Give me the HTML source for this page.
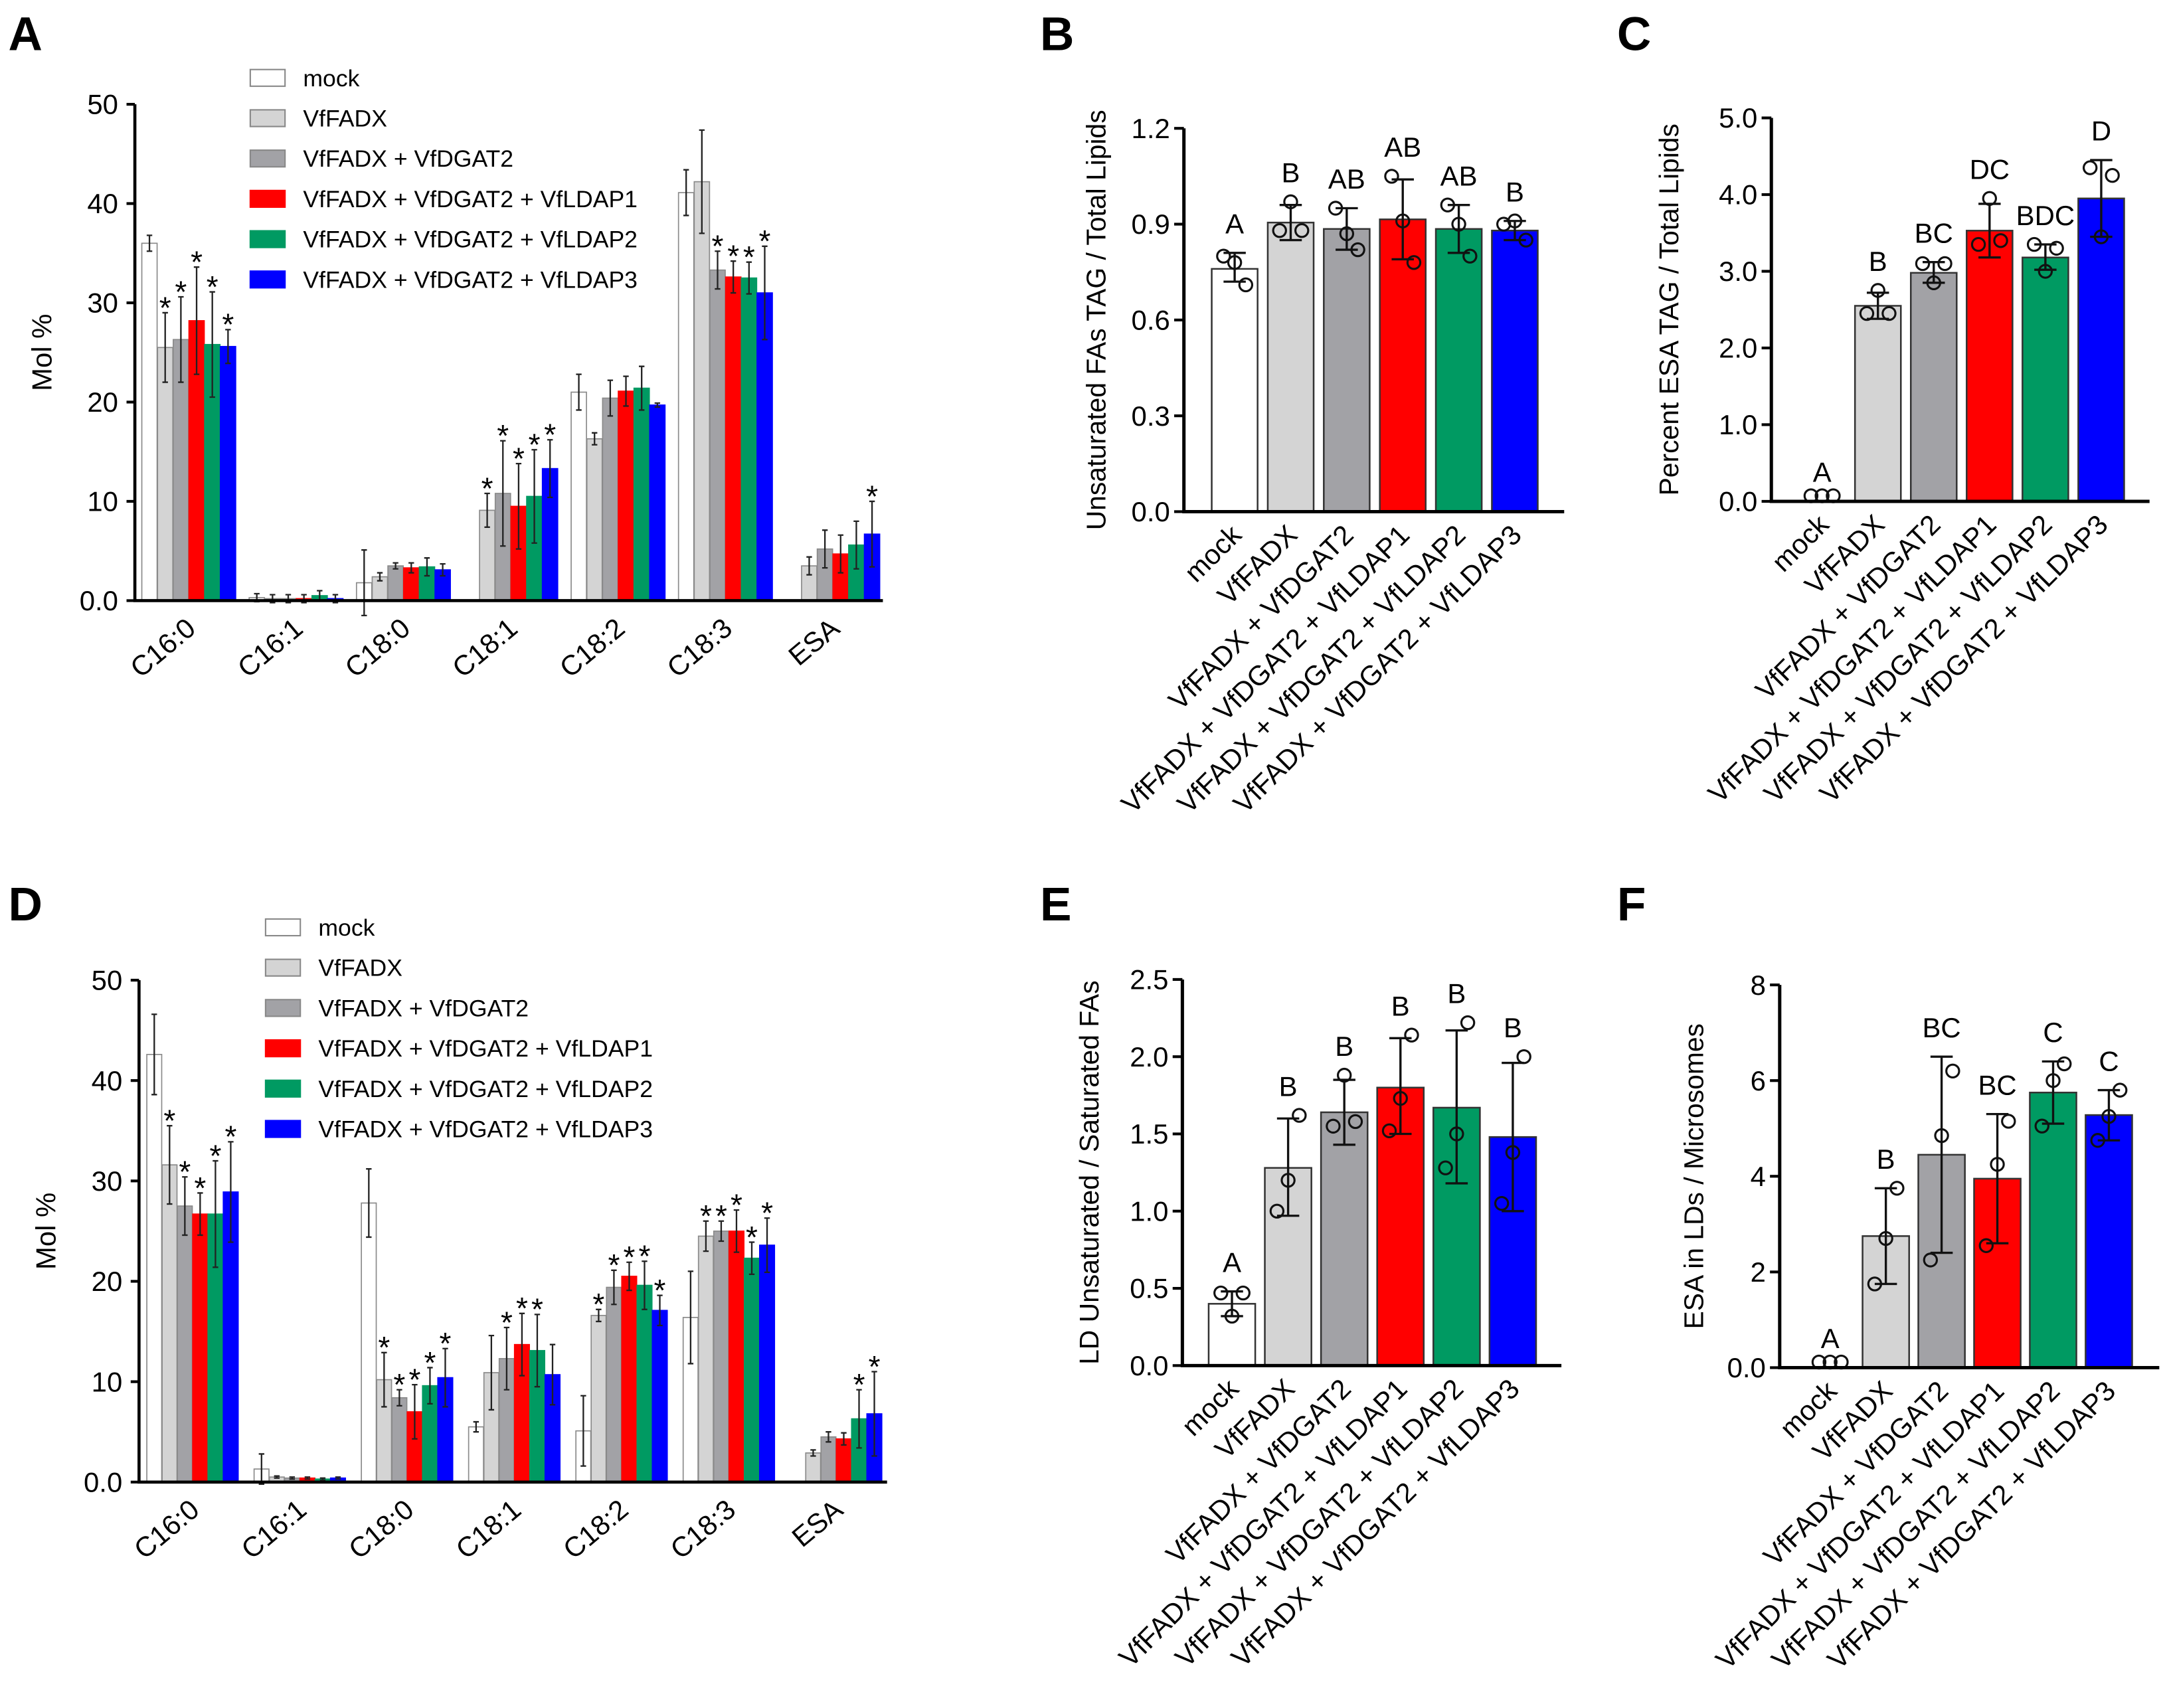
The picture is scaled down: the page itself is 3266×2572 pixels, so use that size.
<!DOCTYPE html>
<html><head><meta charset="utf-8">
<style>
html,body{margin:0;padding:0;background:#fff;}
svg{display:block;font-family:"Liberation Sans",Arial,sans-serif;}
</style></head>
<body>
<svg id="fig" width="3266" height="2572" viewBox="0 0 1560 1228.5" xmlns="http://www.w3.org/2000/svg">
<rect width="1560" height="1229" fill="#fff"/>
</svg>
<script>
// ---- shared ----
const seriesNames = ["mock","VfFADX","VfFADX + VfDGAT2","VfFADX + VfDGAT2 + VfLDAP1","VfFADX + VfDGAT2 + VfLDAP2","VfFADX + VfDGAT2 + VfLDAP3"];
const seriesColors = ["#ffffff","#d4d4d4","#a2a2a6","#ff0000","#009a62","#0000ff"];
const fattyAcids = ["C16:0","C16:1","C18:0","C18:1","C18:2","C18:3","ESA"];

// ---- Panel A data ----
const aMock  = [36.0, 0.3, 1.8, 0, 21.0, 41.1, 0];
const aFadx  = [25.5, 0.2, 2.4, 9.1, 16.3, 42.2, 3.5];
const aDgat  = [26.3, 0.2, 3.5, 10.8, 20.4, 33.3, 5.2];
const aL1    = [28.2, 0.2, 3.3, 9.5, 21.1, 32.6, 4.7];
const aL2    = [25.8, 0.5, 3.4, 10.5, 21.4, 32.5, 5.6];
const aL3    = [25.6, 0.2, 3.1, 13.3, 19.7, 31.0, 6.7];
const aErrMock = [0.8, 0.4, 3.3, 0, 1.8, 2.3, 0];
const aErrFadx = [3.5, 0.4, 0.4, 1.7, 0.6, 5.2, 0.9];
const aErrDgat = [4.3, 0.4, 0.3, 5.3, 1.8, 1.9, 1.9];
const aErrL1   = [5.4, 0.4, 0.5, 4.3, 1.5, 1.6, 1.9];
const aErrL2   = [5.3, 0.5, 0.9, 4.7, 2.2, 1.6, 2.4];
const aErrL3   = [1.7, 0.4, 0.6, 2.9, 0.2, 4.7, 3.3];
const aStars = [[0,1,1,1,1,1],[0,0,0,0,0,0],[0,0,0,0,0,0],[0,1,1,1,1,1],[0,0,0,0,0,0],[0,0,1,1,1,1],[0,0,0,0,0,1]];

// ---- Panel D data ----
const dMock  = [42.6, 1.3, 27.8, 5.5, 5.1, 16.4, 0];
const dFadx  = [31.6, 0.5, 10.2, 10.9, 16.6, 24.5, 2.9];
const dDgat  = [27.5, 0.4, 8.4, 12.3, 19.4, 25.0, 4.5];
const dL1    = [26.7, 0.4, 7.0, 13.7, 20.5, 25.0, 4.3];
const dL2    = [26.7, 0.3, 9.6, 13.1, 19.6, 22.3, 6.3];
const dL3    = [28.9, 0.4, 10.4, 10.7, 17.1, 23.6, 6.8];
const dErrMock = [4.0, 1.5, 3.4, 0.5, 3.5, 4.6, 0];
const dErrFadx = [3.9, 0.1, 2.7, 3.7, 0.6, 1.5, 0.3];
const dErrDgat = [2.9, 0.1, 0.8, 3.1, 1.7, 1.0, 0.5];
const dErrL1   = [2.1, 0.1, 2.7, 3.1, 1.4, 2.1, 0.6];
const dErrL2   = [5.3, 0.1, 1.8, 3.6, 2.4, 1.6, 2.9];
const dErrL3   = [5.0, 0.1, 2.9, 3.0, 1.5, 2.7, 4.2];
const dStars = [[0,1,1,1,1,1],[0,0,0,0,0,0],[0,1,1,1,1,1],[0,0,1,1,1,0],[0,1,1,1,1,1],[0,1,1,1,1,1],[0,0,0,0,1,1]];

// ---- Panels B, C, E, F data ----
const bMeans = [0.76, 0.905, 0.885, 0.915, 0.885, 0.88];
const bLo = [0.72, 0.85, 0.82, 0.79, 0.81, 0.85];
const bHi = [0.81, 0.96, 0.95, 1.04, 0.96, 0.91];
const bPts = [[0.80,0.78,0.71],[0.88,0.97,0.88],[0.95,0.87,0.82],[1.05,0.91,0.78],[0.96,0.90,0.80],[0.90,0.91,0.85]];
const bLetters = ["A","B","AB","AB","AB","B"];

const cMeans = [0, 2.55, 2.98, 3.53, 3.18, 3.95];
const cLo = [0, 2.38, 2.85, 3.18, 3.02, 3.45];
const cHi = [0, 2.72, 3.12, 3.88, 3.35, 4.45];
const cPts = [[0,0,0],[2.45,2.75,2.45],[3.1,2.85,3.1],[3.35,3.95,3.4],[3.35,3.0,3.3],[4.35,3.45,4.25]];
const cLetters = ["A","B","BC","DC","BDC","D"];

const eMeans = [0.40, 1.28, 1.64, 1.80, 1.67, 1.48];
const eLo = [0.32, 0.97, 1.43, 1.50, 1.18, 1.00];
const eHi = [0.48, 1.60, 1.85, 2.12, 2.17, 1.96];
const ePts = [[0.47,0.32,0.47],[1.0,1.2,1.62],[1.55,1.88,1.58],[1.52,1.73,2.14],[1.28,1.5,2.22],[1.05,1.38,2.0]];
const eLetters = ["A","B","B","B","B","B"];

const fMeans = [0, 2.75, 4.45, 3.95, 5.75, 5.28];
const fLo = [0, 1.75, 2.4, 2.6, 5.1, 4.75];
const fHi = [0, 3.75, 6.5, 5.3, 6.4, 5.8];
const fPts = [[0,0,0],[1.75,2.7,3.75],[2.25,4.85,6.2],[2.55,4.25,5.15],[5.05,6.0,6.35],[4.75,5.25,5.8]];
const fLetters = ["A","B","BC","BC","C","C"];

const NS = "http://www.w3.org/2000/svg";
const fig = document.getElementById("fig");
function mk(tag, attrs, parent, text){
  const e = document.createElementNS(NS, tag);
  for (const k in attrs) e.setAttribute(k, attrs[k]);
  if (text !== undefined) e.textContent = text;
  (parent || fig).appendChild(e);
  return e;
}
function panelLetter(t, x, y){
  const e = mk("text",{x:x,y:y,"font-size":34,"font-weight":"bold"},fig,t);
  
  
}

// grouped chart (A, D)
function groupedChart(cfg){
  const g = mk("g",{});
  
  
  const y = v => cfg.y0 - v*(cfg.y0-cfg.yTop)/50;
  const means = [cfg.m0,cfg.m1,cfg.m2,cfg.m3,cfg.m4,cfg.m5];
  const errs = [cfg.e0,cfg.e1,cfg.e2,cfg.e3,cfg.e4,cfg.e5];
  fattyAcids.forEach((fa, gi) => {
    const gx = cfg.start + gi*cfg.gPitch;
    for (let s=0; s<6; s++){
      const v = means[s][gi];
      const bx = gx + s*cfg.bPitch;
      const cx = bx + cfg.bw/2;
      if (v > 0){
        const r = mk("rect",{x:bx,y:y(v),width:cfg.bw,height:cfg.y0-y(v),fill:seriesColors[s],stroke:s<3?"#8a8a8a":seriesColors[s],"stroke-width":0.8},g);
        
        
        const er = errs[s][gi];
        if (er > 0){
          const eb = mk("path",{d:`M${cx},${y(v-er)}V${y(v+er)}M${cx-2},${y(v-er)}h4M${cx-2},${y(v+er)}h4`,stroke:"#222","stroke-width":1.1,fill:"none"},g);
          
          
        }
        if (cfg.stars[gi][s]){
          const st = mk("text",{x:cx,y:y(v+er)+4,"font-size":22,"text-anchor":"middle"},g,"*");
          
          
        }
      }
    }
    const tx = gx + 3*cfg.bPitch;
    const lab = mk("text",{x:0,y:0,"font-size":20,"text-anchor":"end",transform:`translate(${tx+6},${cfg.y0+22}) rotate(-40)`},g,fa);
    
    
  });
  const ax = mk("path",{d:`M${cfg.x0},${cfg.yTop}V${cfg.y0}H${cfg.xEnd}`,stroke:"#000","stroke-width":2.2,fill:"none"},g);
  
  
  [0,10,20,30,40,50].forEach(t=>{
    mk("line",{x1:cfg.x0-6,x2:cfg.x0,y1:y(t),y2:y(t),stroke:"#000","stroke-width":2},g);
    const tl = mk("text",{x:cfg.x0-12,y:y(t)+7,"font-size":20,"text-anchor":"end"},g,t===0?"0.0":String(t));
    
    
  });
  const yt = mk("text",{x:0,y:0,"font-size":20,"text-anchor":"middle",transform:`translate(${cfg.x0-60},${(cfg.y0+cfg.yTop)/2}) rotate(-90)`},g,"Mol %");
  
  
  seriesNames.forEach((n,i)=>{
    const ly = cfg.legY + i*29;
    const sw = mk("rect",{x:cfg.legX,y:ly-6,width:25,height:12,fill:seriesColors[i],stroke:i<3?"#888":seriesColors[i],"stroke-width":1},g);
    
    
    const lt = mk("text",{x:cfg.legX+38,y:ly+6,"font-size":17},g,n);
    
    
  });
}

function simpleChart(cfg){
  const g = mk("g",{});
  
  
  const y = v => cfg.y0 - v*(cfg.y0-cfg.yTop)/cfg.yMax;
  const offs = [-8,0,8];
  for (let i=0;i<6;i++){
    const bx = cfg.start + i*cfg.pitch;
    const cx = bx + cfg.bw/2;
    const v = cfg.means[i];
    if (v > 0){
      const r = mk("rect",{x:bx,y:y(v),width:cfg.bw,height:cfg.y0-y(v),fill:seriesColors[i],stroke:"#333","stroke-width":1.2},g);
      
      
      const eb = mk("path",{d:`M${cx},${y(cfg.lo[i])}V${y(cfg.hi[i])}M${cx-8},${y(cfg.lo[i])}h16M${cx-8},${y(cfg.hi[i])}h16`,stroke:"#111","stroke-width":1.6,fill:"none"},g);
      
      
    }
    let top = Math.max(cfg.hi[i], v);
    cfg.pts[i].forEach((p,k)=>{
      top = Math.max(top,p);
      const c = mk("circle",{cx:cx+offs[k],cy:y(p)-(p===0?4:0),r:4.6,fill:"none",stroke:"#111","stroke-width":1.5},g);
      
      
    });
    const lt = mk("text",{x:cx,y:y(top)-14,"font-size":20,"text-anchor":"middle"},g,cfg.letters[i]);
    
    
    const xl = mk("text",{x:0,y:0,"font-size":20,"text-anchor":"end",transform:`translate(${cx+6},${cfg.y0+18}) rotate(-45)`},g,seriesNames[i]);
    
    
  }
  const ax = mk("path",{d:`M${cfg.x0},${cfg.yTop}V${cfg.y0}H${cfg.xEnd}`,stroke:"#000","stroke-width":2.4,fill:"none"},g);
  
  
  cfg.ticks.forEach((t,k)=>{
    mk("line",{x1:cfg.x0-7,x2:cfg.x0,y1:y(t),y2:y(t),stroke:"#000","stroke-width":2},g);
    const tl = mk("text",{x:cfg.x0-10,y:y(t)+7,"font-size":20,"text-anchor":"end"},g,cfg.tickLabels[k]);
    
    
  });
  const yt = mk("text",{x:0,y:0,"font-size":cfg.titleSize,"text-anchor":"middle",transform:`translate(${cfg.titleX},${(cfg.y0+cfg.yTop)/2}) rotate(-90)`},g,cfg.title);
  
  
}

panelLetter("A",6,36); panelLetter("B",748,36); panelLetter("C",1163,36);
panelLetter("D",6,662); panelLetter("E",748,662); panelLetter("F",1163,662);

groupedChart({name:"panel-a-chart",x0:97,y0:432,yTop:75,xEnd:635,start:102,gPitch:77.2,bw:11,bPitch:11.3,
  m0:aMock,m1:aFadx,m2:aDgat,m3:aL1,m4:aL2,m5:aL3,e0:aErrMock,e1:aErrFadx,e2:aErrDgat,e3:aErrL1,e4:aErrL2,e5:aErrL3,
  stars:aStars,legX:180,legY:56});
groupedChart({name:"panel-d-chart",x0:100,y0:1066,yTop:705,xEnd:638,start:105.6,gPitch:77.15,bw:10.7,bPitch:11,
  m0:dMock,m1:dFadx,m2:dDgat,m3:dL1,m4:dL2,m5:dL3,e0:dErrMock,e1:dErrFadx,e2:dErrDgat,e3:dErrL1,e4:dErrL2,e5:dErrL3,
  stars:dStars,legX:191,legY:667});

simpleChart({name:"panel-b-chart",x0:851.5,y0:368,yTop:92.3,yMax:1.2,xEnd:1125,start:871.5,pitch:40.3,bw:33,
  means:bMeans,lo:bLo,hi:bHi,pts:bPts,letters:bLetters,ticks:[0,0.3,0.6,0.9,1.2],tickLabels:["0.0","0.3","0.6","0.9","1.2"],
  title:"Unsaturated FAs TAG / Total Lipids",titleX:795,titleSize:19.5});
simpleChart({name:"panel-c-chart",x0:1274,y0:360.6,yTop:84.8,yMax:5,xEnd:1546,start:1294,pitch:40.15,bw:33,
  means:cMeans,lo:cLo,hi:cHi,pts:cPts,letters:cLetters,ticks:[0,1,2,3,4,5],tickLabels:["0.0","1.0","2.0","3.0","4.0","5.0"],
  title:"Percent ESA TAG / Total Lipids",titleX:1207,titleSize:19.5});
simpleChart({name:"panel-e-chart",x0:850.4,y0:982.2,yTop:704.5,yMax:2.5,xEnd:1123,start:869.3,pitch:40.4,bw:33.5,
  means:eMeans,lo:eLo,hi:eHi,pts:ePts,letters:eLetters,ticks:[0,0.5,1,1.5,2,2.5],tickLabels:["0.0","0.5","1.0","1.5","2.0","2.5"],
  title:"LD Unsaturated / Saturated FAs",titleX:790,titleSize:19.5});
simpleChart({name:"panel-f-chart",x0:1280,y0:983.7,yTop:708.4,yMax:8,xEnd:1553,start:1299.5,pitch:40.1,bw:33.5,
  means:fMeans,lo:fLo,hi:fHi,pts:fPts,letters:fLetters,ticks:[0,2,4,6,8],tickLabels:["0.0","2","4","6","8"],
  title:"ESA in LDs / Microsomes",titleX:1225,titleSize:19.5});
</script>
</body></html>
